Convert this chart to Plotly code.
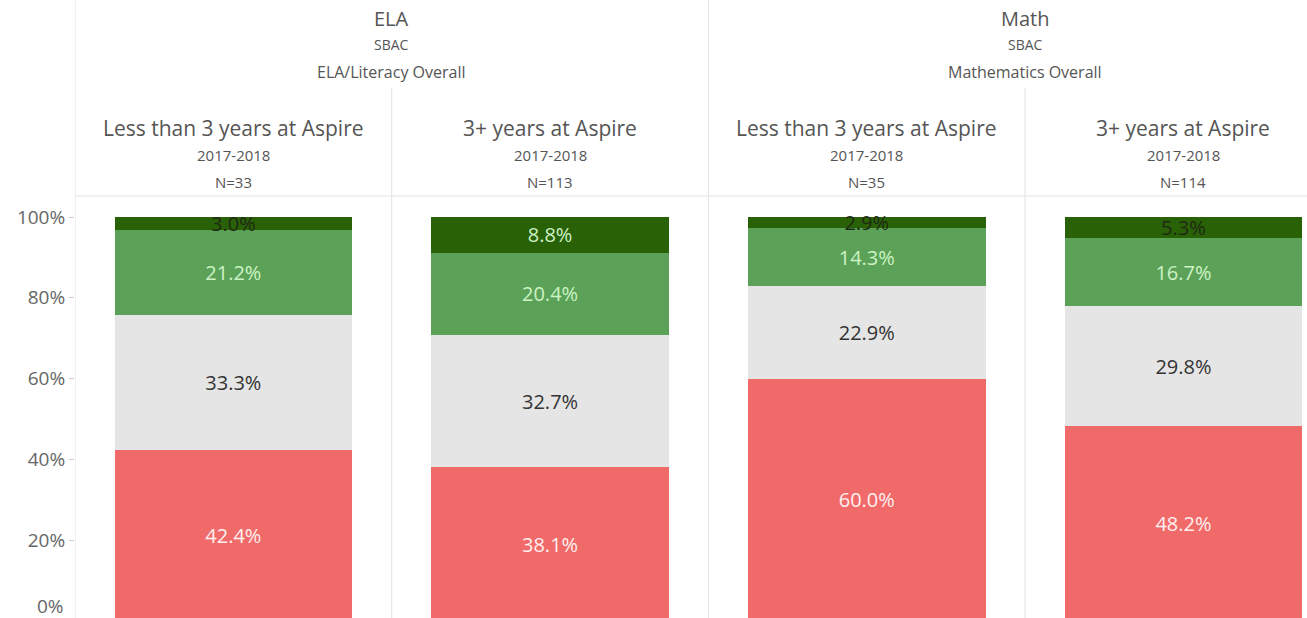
import plotly.graph_objects as go

groups = ["ELA|Less than 3 years at Aspire", "ELA|3+ years at Aspire",
          "Math|Less than 3 years at Aspire", "Math|3+ years at Aspire"]
tenure_labels = ["Less than 3 years at Aspire", "3+ years at Aspire",
                 "Less than 3 years at Aspire", "3+ years at Aspire"]
years = ["2017-2018", "2017-2018", "2017-2018", "2017-2018"]
n_labels = ["N=33", "N=113", "N=35", "N=114"]
subjects = ["ELA", "Math"]
tests = ["SBAC", "SBAC"]
overall = ["ELA/Literacy Overall", "Mathematics Overall"]

levels = ["Standard Not Met", "Standard Nearly Met", "Standard Met", "Standard Exceeded"]
not_met = [42.4, 38.1, 60.0, 48.2]
nearly_met = [33.3, 32.7, 22.9, 29.8]
met = [21.2, 20.4, 14.3, 16.7]
exceeded = [3.0, 8.8, 2.9, 5.3]

y_ticks = [0.2, 0.4, 0.6, 0.8, 1.0]
y_tick_text = ["20%", "40%", "60%", "80%", "100%"]

FONT = "Open Sans"
W, H = 1307, 618
L, T = 75, 196  # screen positions of plot area left / top
plot_h = H - T

colors = ["#F06A6A", "#E5E5E5", "#5BA258", "#296106"]
label_colors = [
    ["#FFF0F0"] * 4,
    ["#333333"] * 4,
    ["#CDF2C4"] * 4,
    ["#1E2A14", "#CDF2C4", "#1E2A14", "#1E2A14"],
]

fig = go.Figure()
for name, vals, col, lc in zip(levels, [not_met, nearly_met, met, exceeded], colors, label_colors):
    fig.add_trace(go.Bar(
        x=groups, y=[v / 100 for v in vals], name=name,
        marker=dict(color=col, line=dict(width=0)),
        text=[f"{v:.1f}%" for v in vals],
        textposition="inside", insidetextanchor="middle",
        constraintext="none",
        textfont=dict(family=FONT, size=20, color=lc),
        width=0.75, hoverinfo="skip",
    ))

def py(p):
    return (H - p) / plot_h

hdr = "#555555"
ann = []
for i in range(4):
    ann.append(dict(x=i, y=py(128), xref="x", yref="paper", yanchor="middle", text=tenure_labels[i],
                    showarrow=False, font=dict(family=FONT, size=21, color=hdr)))
    ann.append(dict(x=i, y=py(155), xref="x", yref="paper", yanchor="middle", text=years[i],
                    showarrow=False, font=dict(family=FONT, size=15, color=hdr)))
    ann.append(dict(x=i, y=py(182), xref="x", yref="paper", yanchor="middle", text=n_labels[i],
                    showarrow=False, font=dict(family=FONT, size=15, color=hdr)))
for j in range(2):
    cx = 0.5 + 2 * j
    ann.append(dict(x=cx, y=py(18), xref="x", yref="paper", yanchor="middle", text=subjects[j],
                    showarrow=False, font=dict(family=FONT, size=20, color=hdr)))
    ann.append(dict(x=cx, y=py(45), xref="x", yref="paper", yanchor="middle", text=tests[j],
                    showarrow=False, font=dict(family=FONT, size=14, color=hdr)))
    ann.append(dict(x=cx, y=py(72), xref="x", yref="paper", yanchor="middle", text=overall[j],
                    showarrow=False, font=dict(family=FONT, size=16, color=hdr)))
ann.append(dict(x=0, y=py(606), xref="paper", yref="paper", yanchor="middle", text="0%", xanchor="right",
                xshift=-9, showarrow=False, font=dict(family=FONT, size=19, color="#666666")))

line_col = "#E2E2E2"
shapes = []
for xb, top in [(-0.5, 0), (0.5, 88), (1.5, 0), (2.5, 88)]:
    shapes.append(dict(type="line", xref="x", yref="paper", x0=xb, x1=xb,
                       y0=0, y1=py(top), line=dict(color=line_col, width=1)))
shapes.append(dict(type="line", xref="paper", yref="paper", x0=0, x1=1,
                   y0=py(T), y1=py(T), line=dict(color=line_col, width=1)))

fig.update_layout(
    width=W, height=H, barmode="stack", showlegend=False,
    margin=dict(l=L, r=0, t=T, b=0, pad=0),
    paper_bgcolor="white", plot_bgcolor="white",
    annotations=ann, shapes=shapes,
    xaxis=dict(type="category", range=[-0.5, -0.5 + (W - L) / 316.7],
               showticklabels=False, showgrid=False, zeroline=False, showline=False, ticks=""),
    yaxis=dict(range=[(621 - H) / 404, (621 - T) / 404], tickvals=y_ticks, ticktext=y_tick_text,
               showgrid=False, zeroline=False, showline=False,
               ticks="outside", ticklen=5, tickcolor="#CCCCCC",
               tickfont=dict(family=FONT, size=19, color="#666666")),
)

fig.write_html("out.html", config={"displayModeBar": False, "staticPlot": True},
               post_script="document.body.style.margin='0px';document.body.style.overflow='hidden';")
